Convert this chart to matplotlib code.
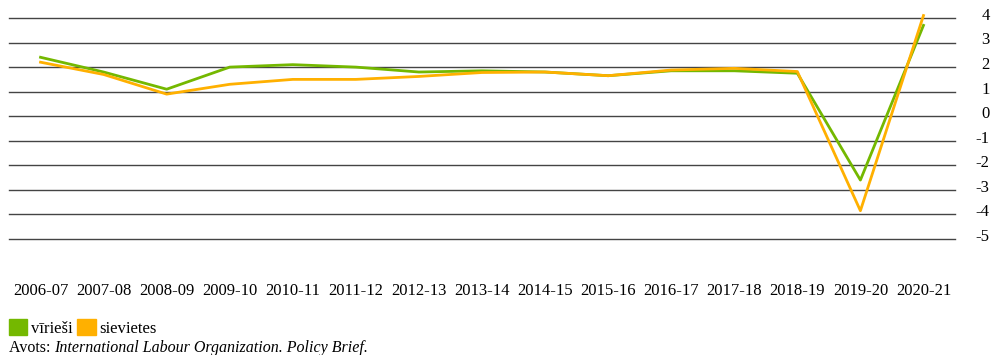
import matplotlib
matplotlib.use("Agg")
import matplotlib.pyplot as plt
from matplotlib.patches import Patch
from matplotlib.transforms import ScaledTranslation

plt.rcParams['font.family'] = ['Liberation Serif', 'DejaVu Serif']

periodi = ['2006-07', '2007-08', '2008-09', '2009-10', '2010-11', '2011-12', '2012-13',
           '2013-14', '2014-15', '2015-16', '2016-17', '2017-18', '2018-19', '2019-20', '2020-21']
virieši = [2.4, 1.8, 1.1, 2.0, 2.1, 2.0, 1.8, 1.85, 1.8, 1.65, 1.85, 1.85, 1.75, -2.6, 3.7]
sievietes = [2.2, 1.7, 0.9, 1.3, 1.5, 1.5, 1.62, 1.78, 1.8, 1.65, 1.88, 1.95, 1.82, -3.85, 4.1]
y_ticks = [4, 3, 2, 1, 0, -1, -2, -3, -4, -5]

zala = '#74b800'
oranza = '#ffb000'

fig = plt.figure(figsize=(9.94, 3.55), dpi=100)
ax = fig.add_axes([9 / 994, 1 - 239 / 355, 946 / 994, 221 / 355])

x = range(len(periodi))
for t in y_ticks:
    ax.axhline(t, color='#444444', lw=1, zorder=1, clip_on=False)
ax.plot(x, virieši, color=zala, lw=2, zorder=3, clip_on=False)
ax.plot(x, sievietes, color=oranza, lw=2, zorder=4, clip_on=False)

ax.set_xlim(-0.5, len(periodi) - 0.5)
ax.set_ylim(-5, 4)
ax.set_xticks(list(x))
ax.set_xticklabels(periodi, fontsize=12)
ax.set_yticks(y_ticks)
ax.set_yticklabels([str(t) for t in y_ticks], fontsize=12, ha='right')
ax.yaxis.tick_right()
ax.tick_params(axis='y', length=0, pad=25)
ax.tick_params(axis='x', length=0, pad=32)
# skaitļi nedaudz virs līnijām
for lbl in ax.get_yticklabels():
    lbl.set_transform(lbl.get_transform() + ScaledTranslation(0, 3 / 72, fig.dpi_scale_trans))
for s in ax.spines.values():
    s.set_visible(False)

fig.legend(handles=[Patch(color=zala), Patch(color=oranza)], labels=['vīrieši', 'sievietes'],
           loc='lower left', bbox_to_anchor=(9 / 994, 1 - 337 / 355), ncol=2, frameon=False,
           fontsize=12, handlelength=1.1, handleheight=1.1, handletextpad=0.2,
           columnspacing=0.3, borderpad=0, borderaxespad=0)

# avota rinda: parasts teksts + slīpraksts
t1 = fig.text(9 / 994, 1 - 352 / 355, 'Avots: ', fontsize=11.5)
fig.canvas.draw()
bb = t1.get_window_extent()
fig.text(bb.x1 / 994, 1 - 352 / 355, 'International Labour Organization. Policy Brief.',
         fontsize=11.5, style='italic')

fig.savefig('out.png', dpi=100)
